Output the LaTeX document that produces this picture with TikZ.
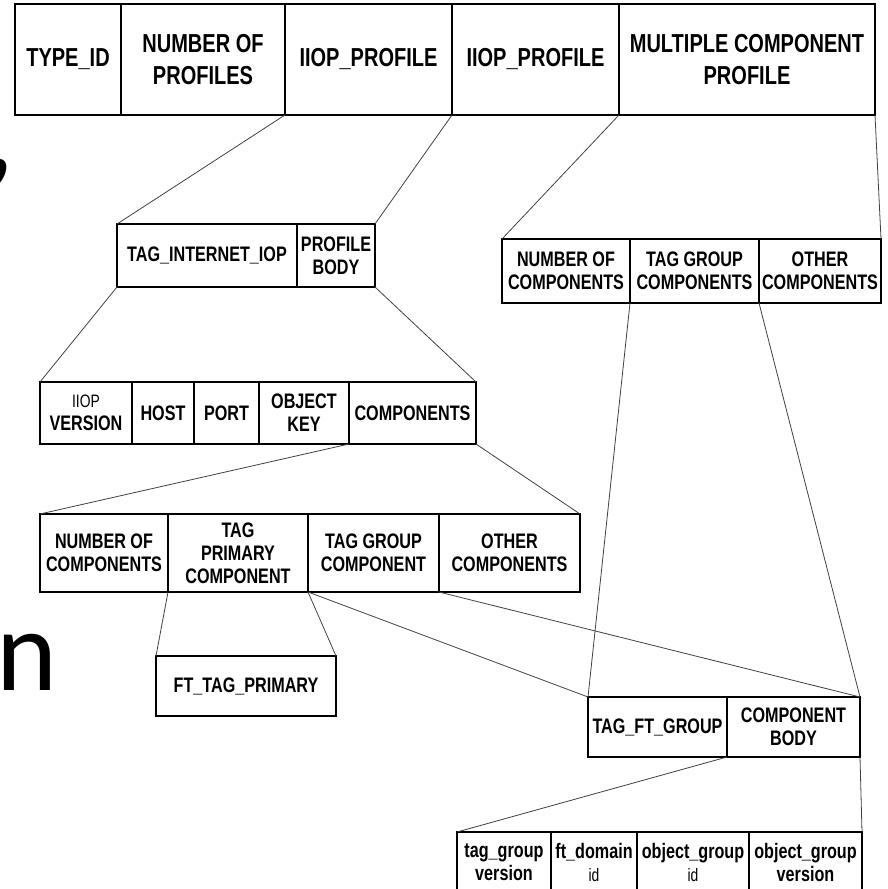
\documentclass[tikz,border=0pt]{standalone}
\usepackage{fontspec}
\setmainfont{Liberation Sans}[FakeStretch=0.77]
\newfontfamily\slidefont{Carlito}
\begin{document}
\begin{tikzpicture}[x=1pt,y=-1pt,
  cell/.style={draw=black,line width=1.1pt,outer sep=0pt,inner sep=0pt,
    anchor=north west,align=center,font=\bfseries\fontsize{21}{23}\selectfont},
  bigcell/.style={cell,font=\bfseries\fontsize{26}{32}\selectfont},
  link/.style={draw=black!75,line width=0.8pt},
  glyph/.style={anchor=base west,inner sep=0pt,font=\slidefont\fontsize{116}{120}\selectfont}]
\useasboundingbox (0,0) rectangle (887,889);

% partly visible slide text at the left edge
\node[glyph] (comma) at (-15,172) {,};
\node[glyph] (nglyph) at (-4,690) {n};

% object reference header
\node[bigcell,minimum width=106,minimum height=111] (t1) at (15,4) {TYPE\_ID};
\node[bigcell,minimum width=164,minimum height=111] (t2) at (121,4) {NUMBER OF\\PROFILES};
\node[bigcell,minimum width=167,minimum height=111] (t3) at (285,4) {IIOP\_PROFILE};
\node[bigcell,minimum width=167,minimum height=111] (t4) at (452,4) {IIOP\_PROFILE};
\node[bigcell,minimum width=256,minimum height=111] (t5) at (619,4) {MULTIPLE COMPONENT\\PROFILE};

% IIOP profile
\node[cell,minimum width=180,minimum height=63] (p1) at (117,224) {TAG\_INTERNET\_IOP};
\node[cell,minimum width=78,minimum height=63] (p2) at (297,224) {PROFILE\\BODY};

% multiple component profile
\node[cell,minimum width=128,minimum height=64] (m1) at (502,239) {NUMBER OF\\COMPONENTS};
\node[cell,minimum width=129,minimum height=64] (m2) at (630,239) {TAG GROUP\\COMPONENTS};
\node[cell,minimum width=122,minimum height=64] (m3) at (759,239) {OTHER\\COMPONENTS};

% profile body
\node[cell,minimum width=92,minimum height=62] (i1) at (40,382) {{\mdseries\fontsize{18}{20}\selectfont IIOP}\\VERSION};
\node[cell,minimum width=62,minimum height=62] (i2) at (132,382) {HOST};
\node[cell,minimum width=65,minimum height=62] (i3) at (194,382) {PORT};
\node[cell,minimum width=90,minimum height=62] (i4) at (259,382) {OBJECT\\KEY};
\node[cell,minimum width=127,minimum height=62] (i5) at (349,382) {COMPONENTS};

% components
\node[cell,minimum width=128,minimum height=78] (c1) at (40,514) {NUMBER OF\\COMPONENTS};
\node[cell,minimum width=140,minimum height=78] (c2) at (168,514) {TAG\\PRIMARY\\COMPONENT};
\node[cell,minimum width=131,minimum height=78] (c3) at (308,514) {TAG GROUP\\COMPONENT};
\node[cell,minimum width=141,minimum height=78] (c4) at (439,514) {OTHER\\COMPONENTS};

\node[cell,minimum width=180,minimum height=60] (ft) at (156,656) {FT\_TAG\_PRIMARY};

% tag group component
\node[cell,minimum width=139,minimum height=60] (g1) at (588,697) {TAG\_FT\_GROUP};
\node[cell,minimum width=133,minimum height=60] (g2) at (727,697) {COMPONENT\\BODY};

% group component body
\node[cell,minimum width=94,minimum height=60] (d1) at (457,832) {tag\_group\\version};
\node[cell,minimum width=86,minimum height=60] (d2) at (551,832) {ft\_domain\\{\mdseries\fontsize{18}{20}\selectfont id}};
\node[cell,minimum width=112,minimum height=60] (d3) at (637,832) {object\_group\\{\mdseries\fontsize{18}{20}\selectfont id}};
\node[cell,minimum width=113,minimum height=60] (d4) at (749,832) {object\_group\\version};

% expansion lines
\draw[link] (t3.south west) -- (p1.north west);
\draw[link] (t4.south west) -- (p2.north east);
\draw[link] (t5.south west) -- (m1.north west);
\draw[link] (t5.south east) -- (m3.north east);
\draw[link] (p1.south west) -- (i1.north west);
\draw[link] (p2.south east) -- (i5.north east);
\draw[link] (i5.south west) -- (c1.north west);
\draw[link] (i5.south east) -- (c4.north east);
\draw[link] (c2.south west) -- (ft.north west);
\draw[link] (c2.south east) -- (ft.north east);
\draw[link] (c3.south west) -- (g1.north west);
\draw[link] (c4.south west) -- (g2.north east);
\draw[link] (m2.south west) -- (g1.north west);
\draw[link] (m3.south west) -- (g2.north east);
\draw[link] (g1.south east) -- (d1.north west);
\draw[link] (g2.south east) -- (d4.north east);
\end{tikzpicture}
\end{document}
